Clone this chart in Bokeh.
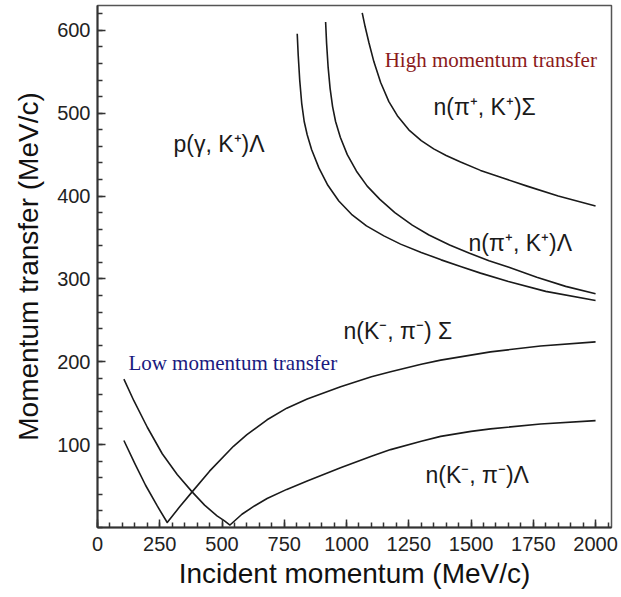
from bokeh.plotting import figure
from bokeh.models import FixedTicker, Range1d, Label
from bokeh.embed import file_html
from bokeh.resources import INLINE

# ---- data (MeV/c) ----
# n(K-, pi-) curve that dips near 280 MeV/c and rises to ~224
low1_x = [106, 150, 193, 240, 280, 330, 380, 450, 546, 600, 681, 760, 842, 976, 1100, 1177,
          1300, 1378, 1578, 1779, 2000]
low1_y = [105, 77, 51, 26, 6, 25, 43, 68, 98, 112, 130, 144, 155, 170, 182, 188,
          197, 202, 212, 219, 224]
# n(K-, pi-) curve that dips near 530 MeV/c and rises to ~129
low2_x = [106, 146, 200, 260, 320, 380, 430, 480, 510, 532, 580, 630, 681, 760, 842, 976,
          1100, 1177, 1300, 1378, 1500, 1578, 1779, 2000]
low2_y = [179, 153, 121, 89, 64, 43, 27, 14, 8, 3, 16, 26, 35, 46, 56, 72,
          86, 94, 104, 110, 116, 119, 125, 129]
# n(pi+, K+) Lambda pair
high1_x = [802, 806, 812, 820, 830, 842, 860, 889, 925, 969, 1020, 1080, 1150, 1217, 1300,
           1380, 1458, 1538, 1650, 1800, 2000]
high1_y = [596, 570, 540, 512, 490, 474, 456, 434, 413, 394, 378, 364, 352, 342, 332,
           323, 315, 307, 297, 285, 274]
high2_x = [916, 920, 926, 934, 944, 956, 975, 1003, 1040, 1083, 1134, 1194, 1264, 1331,
           1414, 1494, 1572, 1652, 1764, 1880, 2000]
high2_y = [610, 584, 556, 530, 508, 490, 471, 450, 430, 412, 396, 380, 365, 353,
           341, 331, 322, 314, 302, 291, 282]
# n(pi+, K+) Sigma
high3_x = [1063, 1075, 1090, 1110, 1137, 1170, 1204, 1250, 1300, 1350, 1400, 1458, 1538,
           1625, 1725, 1850, 2000]
high3_y = [621, 604, 585, 562, 537, 514, 497, 480, 467, 457, 449, 441, 431,
           422, 412, 400, 388]

x_ticks = [0, 250, 500, 750, 1000, 1250, 1500, 1750, 2000]
x_minor = list(range(0, 2051, 50))
y_ticks = [100, 200, 300, 400, 500, 600]
y_minor = list(range(0, 630, 20))

labels_text = ["p(γ, K⁺)Λ", "n(π⁺, K⁺)Σ", "n(π⁺, K⁺)Λ", "n(K⁻, π⁻) Σ", "n(K⁻, π⁻)Λ"]
labels_x = [305, 1349, 1490, 988, 1317]
labels_y = [463, 507, 343, 237, 63]

p = figure(width=621, height=597, output_backend="svg", toolbar_location=None,
           x_range=Range1d(0, 2064), y_range=Range1d(0, 630),
           min_border_left=97, min_border_right=10, min_border_top=5, min_border_bottom=70)
p.background_fill_color = "white"
p.border_fill_color = "white"
p.grid.visible = False
p.outline_line_color = "#555555"
p.outline_line_width = 1.5

for xs, ys in [(low1_x, low1_y), (low2_x, low2_y), (high1_x, high1_y),
               (high2_x, high2_y), (high3_x, high3_y)]:
    p.line(xs, ys, line_color="#1a1a1a", line_width=1.6, line_join="round")

p.xaxis.ticker = FixedTicker(ticks=x_ticks, minor_ticks=x_minor)
p.yaxis.ticker = FixedTicker(ticks=y_ticks, minor_ticks=y_minor)
for ax in (p.xaxis[0], p.yaxis[0]):
    ax.axis_line_color = "#333333"
    ax.axis_line_width = 2
    ax.major_tick_in = 8
    ax.major_tick_out = 0
    ax.minor_tick_in = 5
    ax.minor_tick_out = 0
    ax.major_tick_line_color = "#333333"
    ax.minor_tick_line_color = "#333333"
    ax.major_tick_line_width = 1.5
    ax.minor_tick_line_width = 1.5
    ax.major_label_text_font = "Liberation Sans"
    ax.major_label_text_font_size = "20px"
    ax.major_label_text_color = "#222222"
    ax.axis_label_text_font = "Liberation Sans"
    ax.axis_label_text_font_size = "28px"
    ax.axis_label_text_font_style = "normal"
    ax.axis_label_text_color = "#111111"

p.xaxis.axis_label = "Incident momentum (MeV/c)"
p.yaxis.axis_label = "Momentum transfer (MeV/c)"
p.xaxis.major_label_standoff = 9
p.xaxis.axis_label_standoff = 4
p.yaxis.major_label_standoff = 7
p.yaxis.axis_label_standoff = 10

for t, x, y in zip(labels_text, labels_x, labels_y):
    p.add_layout(Label(x=x, y=y, text=t, text_font="Liberation Sans", text_font_size="23px",
                       text_color="#1a1a1a", text_baseline="middle", text_align="left"))

p.add_layout(Label(x=1153, y=564, text="High momentum transfer", text_font="Liberation Serif",
                   text_font_size="21px", text_color="#8b1a1a", text_baseline="middle", text_align="left"))
p.add_layout(Label(x=124, y=199, text="Low momentum transfer", text_font="Liberation Serif",
                   text_font_size="21px", text_color="#1a1a80", text_baseline="middle", text_align="left"))

open("out.html", "w").write(file_html(p, INLINE))
